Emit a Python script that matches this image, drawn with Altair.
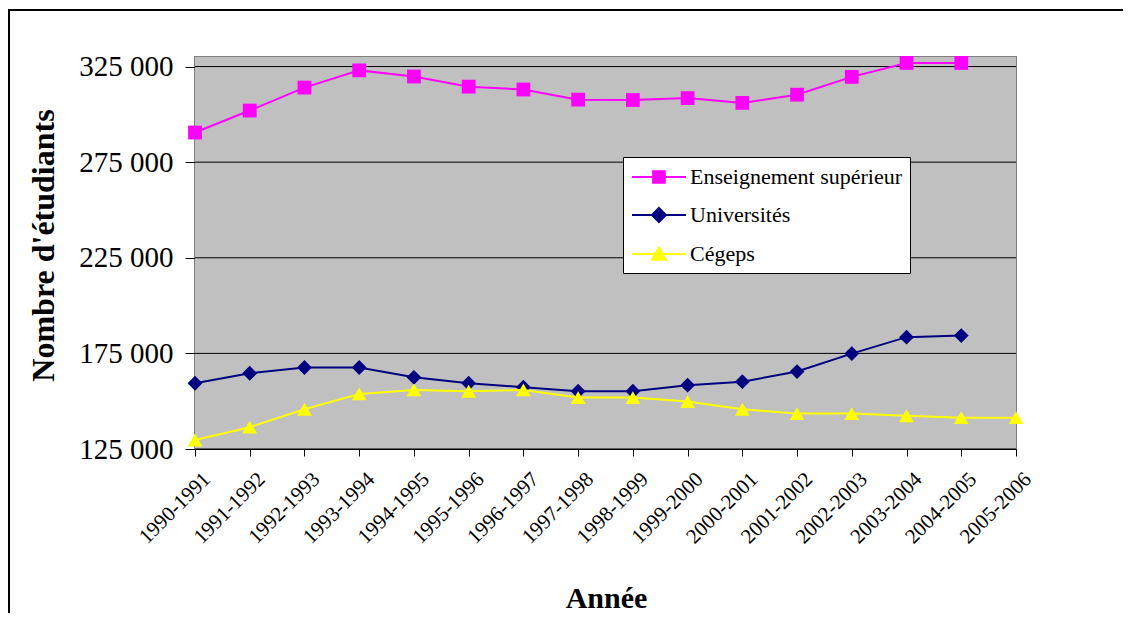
import altair as alt
import pandas as pd

annees = ["1990-1991", "1991-1992", "1992-1993", "1993-1994", "1994-1995", "1995-1996",
          "1996-1997", "1997-1998", "1998-1999", "1999-2000", "2000-2001", "2001-2002",
          "2002-2003", "2003-2004", "2004-2005", "2005-2006"]
superieur = [290500, 302000, 314000, 323000, 319800, 314500, 313000, 307700, 307500,
             308500, 306000, 310300, 319600, 326900, 326900, None]
universites = [159400, 164600, 167600, 167600, 162500, 159400, 157300, 155200, 155200,
               158400, 160200, 165500, 174900, 183500, 184300, None]
cegeps = [129700, 136400, 145800, 153800, 155900, 155200, 155900, 151900, 151900,
          149800, 145800, 143500, 143500, 142400, 141400, 141400]
y_ticks = [125000, 175000, 225000, 275000, 325000]

series_names = ["Enseignement supérieur", "Universités", "Cégeps"]
series_values = [superieur, universites, cegeps]
series_colors = ["#FF00FF", "#000080", "#FFFF00"]
series_markers = ["square", "diamond", "triangle-up"]
series_sizes = [190, 220, 220]
# legend symbols: line segment + marker (custom SVG paths)
legend_paths = [
    "M-1,0H3.91M0.92,-0.53H1.98V0.53H0.92Z",
    "M-1,0H3.91M1.45,-0.64L2.09,0L1.45,0.64L0.81,0Z",
    "M-1,0H3.91M1.45,-0.58L2.07,0.52L0.83,0.52Z",
]

rows = []
for name, vals in zip(series_names, series_values):
    for a, v in zip(annees, vals):
        if v is not None:
            rows.append({"annee": a, "serie": name, "valeur": v})
df = pd.DataFrame(rows)

W, H = 821, 392
PAD = {"left": 187, "top": 49, "right": 107, "bottom": 164}

x_scale = alt.Scale(domain=annees, padding=0)
x_axis = alt.Axis(title="Année", labelAngle=-45, labelAlign="right",
                  labelBaseline="top", labelFont="Liberation Serif",
                  labelFontSize=21, labelColor="black", labelPadding=12, labelOffset=4,
                  tickSize=7, tickColor="black", domainColor="black",
                  grid=False, titleFont="Liberation Serif", titleFontSize=30,
                  titleFontWeight="bold", titleColor="black",
                  titleX=411, titleY=158, titleBaseline="alphabetic")
y_scale = alt.Scale(domain=[125000, 330000], nice=False, zero=False)
y_axis = alt.Axis(title="Nombre d'étudiants", values=y_ticks,
                  labelExpr="replace(format(datum.value, ','), ',', ' ')",
                  labelFont="Liberation Serif", labelFontSize=29, labelColor="black",
                  labelPadding=12, tickSize=10, tickColor="black", domainColor="black",
                  grid=False,
                  titleFont="Liberation Serif", titleFontSize=32, titleFontWeight="bold",
                  titleColor="black", titleX=-142, titleY=188, titleAngle=-90,
                  titleBaseline="alphabetic")

def X(field="annee"):
    return alt.X(f"{field}:N", sort=annees, scale=x_scale, axis=x_axis)

def Y(field):
    return alt.Y(f"{field}:Q", scale=y_scale, axis=y_axis)

one = pd.DataFrame({"k": [0]})

# plot area background
bg = alt.Chart(one).mark_rect(fill="#C0C0C0").encode(
    x=alt.value(0), x2=alt.value(W), y=alt.value(0), y2=alt.value(H))
# horizontal gridlines at the tick values
grid = alt.Chart(pd.DataFrame({"v": y_ticks})).mark_rule(color="black", strokeWidth=1).encode(
    y=Y("v"))

base = alt.Chart(df)
layers = [bg, grid]
for name, col, marker, size in zip(series_names, series_colors, series_markers, series_sizes):
    sub = base.transform_filter(alt.datum.serie == name)
    layers.append(sub.mark_line(strokeWidth=2, color=col).encode(x=X(), y=Y("valeur")))
    layers.append(sub.mark_point(shape=marker, filled=True, opacity=1, size=size, color=col).encode(
        x=X(), y=Y("valeur")))

leg = alt.Legend(title=None, orient="none", legendX=428, legendY=100,
                 fillColor="white", strokeColor="black", padding=8, cornerRadius=0,
                 labelFont="Liberation Serif", labelFontSize=22, labelColor="black",
                 labelLimit=400, labelOffset=35, symbolSize=484, symbolStrokeWidth=2,
                 rowPadding=15)
# legend-only layer: its points sit far below the visible range and are clipped away
legend_layer = base.transform_calculate(cache="0").mark_point(
    filled=True, opacity=1, strokeWidth=2, clip=True).encode(
    x=X(), y=Y("cache"),
    fill=alt.Fill("serie:N", scale=alt.Scale(domain=series_names, range=series_colors), legend=leg),
    stroke=alt.Stroke("serie:N", scale=alt.Scale(domain=series_names, range=series_colors), legend=leg),
    shape=alt.Shape("serie:N", scale=alt.Scale(domain=series_names, range=legend_paths), legend=leg),
)

# outer frame (top and left edges)
frame_top = alt.Chart(one).mark_rule(color="black", strokeWidth=2).encode(
    x=alt.value(-186), x2=alt.value(W + PAD["right"]), y=alt.value(-47))
frame_left = alt.Chart(one).mark_rule(color="black", strokeWidth=2).encode(
    x=alt.value(-186), y=alt.value(-48), y2=alt.value(H + PAD["bottom"]))

chart = alt.layer(*layers, legend_layer, frame_top, frame_left).properties(
    width=W, height=H, padding=PAD, autosize=alt.AutoSizeParams(type="none"),
    background="white",
).configure_view(stroke="#808080", strokeWidth=2)

chart.save("out.html", embed_options={"renderer": "svg", "actions": False})
